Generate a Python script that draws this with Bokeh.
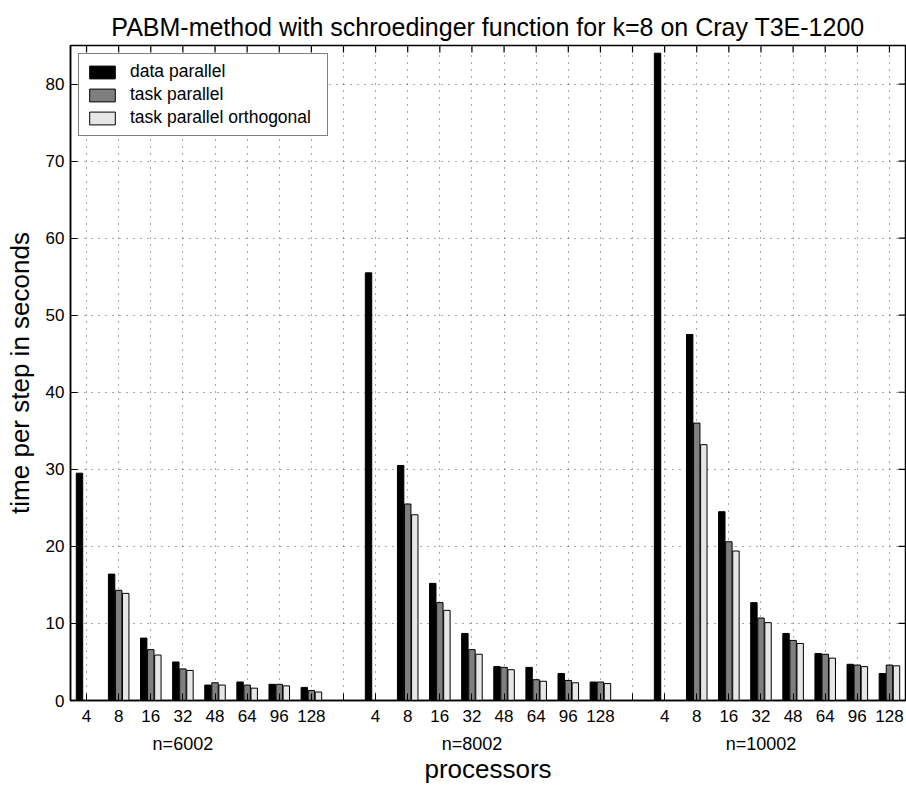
from bokeh.plotting import figure
from bokeh.models import (ColumnDataSource, FixedTicker, LinearAxis, Range1d,
                          Legend, LegendItem)
from bokeh.embed import file_html
from bokeh.resources import INLINE

# Processor counts (tick labels within each group) and problem sizes (groups)
processors = ["4", "8", "16", "32", "48", "64", "96", "128"]
sizes = ["n=6002", "n=8002", "n=10002"]

# Time per step in seconds, one row per problem size
data_parallel = [
    [29.5, 16.4, 8.1, 5.0, 2.0, 2.4, 2.1, 1.7],
    [55.5, 30.5, 15.2, 8.7, 4.4, 4.3, 3.5, 2.4],
    [84.0, 47.5, 24.5, 12.7, 8.7, 6.1, 4.7, 3.5],
]
task_parallel = [
    [None, 14.3, 6.6, 4.1, 2.3, 2.0, 2.1, 1.3],
    [None, 25.5, 12.7, 6.6, 4.3, 2.7, 2.6, 2.4],
    [None, 36.0, 20.6, 10.7, 7.8, 6.0, 4.6, 4.6],
]
task_parallel_orth = [
    [None, 13.9, 5.9, 3.9, 2.0, 1.6, 1.9, 1.1],
    [None, 24.1, 11.7, 6.0, 4.0, 2.5, 2.3, 2.2],
    [None, 33.2, 19.4, 10.1, 7.4, 5.5, 4.4, 4.5],
]

series_names = ["data parallel", "task parallel", "task parallel orthogonal"]
series_colors = ["#000000", "#7f7f7f", "#e6e6e6"]
series_values = [data_parallel, task_parallel, task_parallel_orth]

FONT = "Liberation Sans"
W, H = 906, 786
LEFT, RIGHT, TOP = 70, 1, 45
Y_MAX = 85
TICK_PX = 7

n_proc = len(processors)
stride = n_proc + 1            # one empty slot between groups
n_slots = stride * len(sizes) - 1
all_slots = list(range(1, n_slots + 1))
y_ticks = list(range(0, 81, 10))

# slot labels: processor counts, blanks in the gaps
slot_labels = {s: "" for s in all_slots}
for g in range(len(sizes)):
    for i, lab in enumerate(processors):
        slot_labels[g * stride + i + 1] = lab
group_ticks = [g * stride + 4 for g in range(len(sizes))]
group_labels = {t: lab for t, lab in zip(group_ticks, sizes)}

x_lo, x_hi = 0.5, n_slots + 0.5
p = figure(width=W, height=H,
           x_range=Range1d(x_lo, x_hi), y_range=Range1d(0, Y_MAX),
           output_backend="svg", toolbar_location=None,
           min_border_left=LEFT, min_border_right=RIGHT, min_border_top=TOP,
           min_border_bottom=0,
           title="PABM-method with schroedinger function for k=8 on Cray T3E-1200")
p.title.text_font = FONT
p.title.text_font_size = "25px"
p.title.text_font_style = "normal"
p.title.align = "center"
p.title.text_color = "black"
p.outline_line_color = "black"
p.outline_line_width = 1.5
p.background_fill_color = "white"
p.border_fill_color = "white"

x_ticker = FixedTicker(ticks=all_slots)
y_ticker = FixedTicker(ticks=y_ticks)

# dotted grid
for grid, tk in ((p.xgrid, x_ticker), (p.ygrid, y_ticker)):
    grid.ticker = tk
    grid.grid_line_color = "#555555"
    grid.grid_line_dash = "1 6"
    grid.grid_line_width = 1

offsets = [-0.22, 0.0, 0.22]
bar_w = 0.2
renderers = []
for name, color, vals, off in zip(series_names, series_colors, series_values, offsets):
    xs, tops = [], []
    for g, row in enumerate(vals):
        for i, v in enumerate(row):
            if v is None:
                continue
            xs.append(g * stride + i + 1 + off)
            tops.append(v)
    src = ColumnDataSource(dict(x=xs, top=tops))
    r = p.vbar(x="x", top="top", width=bar_w, bottom=0, source=src,
               fill_color=color, line_color="black", line_width=1)
    renderers.append(r)

# bottom axis with processor counts
xa = p.xaxis[0]
xa.ticker = x_ticker
xa.major_label_overrides = slot_labels
xa.major_tick_in = TICK_PX
xa.major_tick_out = 0
xa.major_label_standoff = 9
xa.major_label_text_font = FONT
xa.major_label_text_font_size = "17px"
xa.major_label_text_color = "black"
xa.axis_line_color = "black"
xa.axis_line_width = 1.5
xa.major_tick_line_color = "black"

# second bottom axis with problem sizes and the axis title
ga = LinearAxis(ticker=FixedTicker(ticks=group_ticks),
                major_label_overrides=group_labels,
                axis_line_color=None, major_tick_line_color=None,
                minor_tick_line_color=None,
                major_label_standoff=3,
                major_label_text_font=FONT, major_label_text_font_size="18px",
                major_label_text_color="black",
                axis_label="processors", axis_label_text_font=FONT,
                axis_label_text_font_size="26px",
                axis_label_text_font_style="normal",
                axis_label_text_color="black", axis_label_standoff=-3)
p.add_layout(ga, "below")

ya = p.yaxis[0]
ya.ticker = y_ticker
ya.major_tick_in = TICK_PX
ya.major_tick_out = 0
ya.major_label_standoff = 6
ya.major_label_text_font = FONT
ya.major_label_text_font_size = "17px"
ya.major_label_text_color = "black"
ya.axis_line_color = "black"
ya.axis_line_width = 1.5
ya.axis_label = "time per step in seconds"
ya.axis_label_text_font = FONT
ya.axis_label_text_font_size = "26px"
ya.axis_label_text_font_style = "normal"
ya.axis_label_text_color = "black"
ya.axis_label_standoff = 8

# inward tick marks along the top and right edges of the box
frame_h = H - TOP - 85
frame_w = W - LEFT - RIGHT
dy = TICK_PX * Y_MAX / frame_h
dx = TICK_PX * (x_hi - x_lo) / frame_w
p.segment(x0=all_slots, x1=all_slots,
          y0=[Y_MAX] * len(all_slots), y1=[Y_MAX - dy] * len(all_slots),
          line_color="black", line_width=1.2)
p.segment(x0=[x_hi] * len(y_ticks), x1=[x_hi - dx] * len(y_ticks),
          y0=y_ticks, y1=y_ticks, line_color="black", line_width=1.2)

legend = Legend(items=[LegendItem(label=n, renderers=[r])
                       for n, r in zip(series_names, renderers)],
                location="top_left", margin=8, padding=7, spacing=2,
                glyph_width=32, glyph_height=16, label_height=17,
                label_width=190, label_standoff=12,
                label_text_font=FONT, label_text_font_size="17.5px",
                label_text_color="black",
                border_line_color="black", border_line_width=1.5,
                background_fill_color="white", background_fill_alpha=1)
p.add_layout(legend)

open("out.html", "w").write(file_html(p, INLINE))
